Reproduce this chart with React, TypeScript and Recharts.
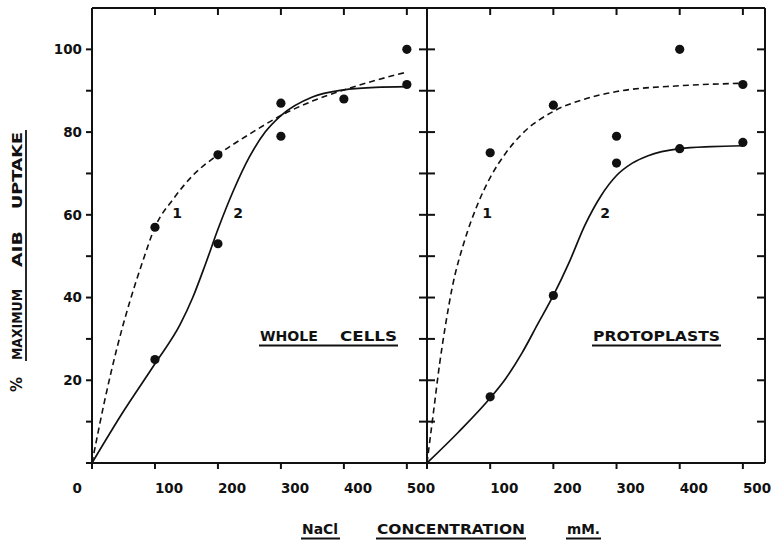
import React from 'react';
import { ComposedChart, Line, Scatter, XAxis, YAxis } from 'recharts';

const xTicks = [0, 100, 200, 300, 400, 500];
const yTicks = [0, 10, 20, 30, 40, 50, 60, 70, 80, 90, 100];
const yLabelValues = [20, 40, 60, 80, 100];

// Whole cells: measured points
const wholeDotX = [100, 100, 200, 200, 300, 300, 400, 500, 500];
const wholeDotY = [57, 25, 74.5, 53, 87, 79, 88, 100, 91.5];
// Whole cells: curve 1 (dashed), curve 2 (solid)
const wholeC1X = [0, 20, 40, 60, 80, 100, 130, 160, 200, 250, 300, 350, 400, 450, 500];
const wholeC1Y = [0, 15, 28, 39, 48.5, 57, 64, 69.5, 74.5, 79.5, 84, 87.5, 90.2, 92.5, 94.5];
const wholeC2X = [0, 50, 100, 140, 160, 180, 200, 225, 250, 275, 300, 350, 400, 450, 500];
const wholeC2Y = [0, 12.5, 24, 33.5, 40, 48, 56.5, 66, 74, 80, 84, 88.5, 90.2, 90.8, 91];

// Protoplasts: measured points
const protoDotX = [100, 100, 200, 200, 300, 300, 400, 400, 500, 500];
const protoDotY = [75, 16, 86.5, 40.5, 79, 72.5, 100, 76, 91.5, 77.5];
// Protoplasts: curve 1 (dashed), curve 2 (solid)
const protoC1X = [0, 10, 20, 30, 40, 60, 80, 100, 125, 150, 200, 250, 300, 400, 500];
const protoC1Y = [0, 12, 24, 34, 42.5, 54, 62.5, 69, 75, 79.5, 85, 88, 89.8, 91.2, 91.8];
const protoC2X = [0, 50, 100, 125, 150, 175, 200, 225, 250, 275, 300, 325, 350, 400, 450, 500];
const protoC2Y = [0, 7.5, 15.7, 20.5, 26.5, 33.5, 40.5, 48.5, 57.5, 64.5, 69.5, 72.5, 74.3, 76, 76.5, 76.7];

const zip = (xs: number[], ys: number[]) => xs.map((x, i) => ({ x, y: ys[i] }));

const FONT = '"DejaVu Sans", sans-serif';
const INK = '#111';
const TICK_W = 2;
const PLOT_TOP = 8; // margin.top + top axis height

const Dot = (p: any) => <circle cx={p.cx} cy={p.cy} r={4.6} fill={INK} />;

const labelProps = { fontFamily: FONT, fontWeight: 'bold' as const, fontSize: 13.5, fill: INK };

// tickSize/tickMargin are 0, so (x, y) is the point on the axis line itself.
// The bottom axis also draws the matching inward tick on the top frame line.
function BottomTick({ x, y, payload, showZero }: any) {
  const v = payload.value;
  return (
    <g>
      <line x1={x} x2={x} y1={y} y2={y + 6} stroke={INK} strokeWidth={TICK_W} />
      <line x1={x} x2={x} y1={PLOT_TOP} y2={PLOT_TOP + 7} stroke={INK} strokeWidth={TICK_W} />
      {v === 0 ? (
        showZero ? (
          <text x={x - 10} y={y + 20} dy="0.71em" textAnchor="end" {...labelProps}>0</text>
        ) : null
      ) : (
        <text x={x} y={y + 20} dy="0.71em" textAnchor="start" {...labelProps}>{v}</text>
      )}
    </g>
  );
}

// The left axis also draws the matching inward tick on the right frame line.
function LeftTick({ x, y, payload, labelled, plotRight }: any) {
  const right = <line x1={plotRight - 8} x2={plotRight} y1={y} y2={y} stroke={INK} strokeWidth={TICK_W} />;
  if (!labelled) {
    return (
      <g>
        <line x1={x} x2={x + 8} y1={y} y2={y} stroke={INK} strokeWidth={TICK_W} />
        {right}
      </g>
    );
  }
  return (
    <g>
      <line x1={x - 6} x2={x} y1={y} y2={y} stroke={INK} strokeWidth={TICK_W} />
      {right}
      {yLabelValues.includes(payload.value) ? (
        <text x={x - 10} y={y} dy="0.36em" textAnchor="end" {...labelProps}>{payload.value}</text>
      ) : null}
    </g>
  );
}

interface PanelProps {
  left: number;
  width: number;
  marginLeft: number;
  xMax: number;
  labelled: boolean;
  dots: { x: number; y: number }[];
  curve1: { x: number; y: number }[];
  curve2: { x: number; y: number }[];
}

function Panel({ left, width, marginLeft, xMax, labelled, dots, curve1, curve2 }: PanelProps) {
  const axisLine = { stroke: INK, strokeWidth: 2 };
  const common = { allowDataOverflow: true, interval: 0 as const, tickSize: 0, tickMargin: 0, tickLine: false, axisLine, stroke: INK };
  const plotRight = width - 10;
  return (
    <div style={{ position: 'absolute', left, top: 0 }}>
      <ComposedChart width={width} height={541} margin={{ top: 7, right: 9, bottom: 77, left: marginLeft }}>
        <XAxis
          xAxisId="B"
          type="number"
          dataKey="x"
          orientation="bottom"
          height={1}
          domain={[0, xMax]}
          ticks={xTicks}
          tick={(p: any) => <BottomTick {...p} showZero={labelled} />}
          {...common}
        />
        <XAxis
          xAxisId="T"
          type="number"
          dataKey="x"
          orientation="top"
          height={1}
          domain={[0, xMax]}
          ticks={xTicks}
          tick={false}
          {...common}
        />
        <YAxis
          yAxisId="L"
          type="number"
          dataKey="y"
          orientation="left"
          width={1}
          domain={[0, 110]}
          ticks={yTicks}
          tick={(p: any) => <LeftTick {...p} labelled={labelled} plotRight={plotRight} />}
          {...common}
        />
        <YAxis
          yAxisId="R"
          type="number"
          orientation="right"
          width={1}
          domain={[0, 110]}
          ticks={yTicks}
          tick={false}
          {...common}
        />
        {/* curve 1 sits on the top/right axes, which share the bottom/left domains */}
        <Line
          xAxisId="T"
          yAxisId="R"
          data={curve1}
          dataKey="y"
          type="monotone"
          stroke={INK}
          strokeWidth={1.6}
          strokeDasharray="6 4"
          dot={false}
          isAnimationActive={false}
        />
        <Line
          xAxisId="B"
          yAxisId="L"
          data={curve2}
          dataKey="y"
          type="monotone"
          stroke={INK}
          strokeWidth={1.7}
          dot={false}
          isAnimationActive={false}
        />
        <Scatter xAxisId="B" yAxisId="L" data={dots} dataKey="y" shape={Dot} isAnimationActive={false} />
      </ComposedChart>
    </div>
  );
}

const textStyle = { fontFamily: FONT, fontWeight: 'bold' as const, fill: INK };

export default function App() {
  return (
    <div style={{ position: 'absolute', left: 0, top: 0, width: 775, height: 541, background: '#fff' }}>
      <Panel
        left={0}
        width={437}
        marginLeft={91}
        xMax={532}
        labelled
        dots={zip(wholeDotX, wholeDotY)}
        curve1={zip(wholeC1X, wholeC1Y)}
        curve2={zip(wholeC2X, wholeC2Y)}
      />
      <Panel
        left={417}
        width={358}
        marginLeft={9}
        xMax={535}
        labelled={false}
        dots={zip(protoDotX, protoDotY)}
        curve1={zip(protoC1X, protoC1Y)}
        curve2={zip(protoC2X, protoC2Y)}
      />
      <svg width={775} height={541} style={{ position: 'absolute', left: 0, top: 0, pointerEvents: 'none' }}>
        {/* curve numbers */}
        <text x={177} y={218} textAnchor="middle" fontSize={14} {...textStyle}>1</text>
        <text x={238} y={218} textAnchor="middle" fontSize={14} {...textStyle}>2</text>
        <text x={487} y={218} textAnchor="middle" fontSize={14} {...textStyle}>1</text>
        <text x={605} y={218} textAnchor="middle" fontSize={14} {...textStyle}>2</text>
        {/* panel names */}
        <text x={260} y={341} fontSize={14} textLength={58} lengthAdjust="spacingAndGlyphs" {...textStyle}>WHOLE</text>
        <text x={340} y={341} fontSize={14} textLength={57} lengthAdjust="spacingAndGlyphs" {...textStyle}>CELLS</text>
        <line x1={259} x2={398} y1={345.5} y2={345.5} stroke={INK} strokeWidth={1.8} />
        <text x={593} y={341} fontSize={14} textLength={127} lengthAdjust="spacingAndGlyphs" {...textStyle}>PROTOPLASTS</text>
        <line x1={592} x2={721} y1={345.5} y2={345.5} stroke={INK} strokeWidth={1.8} />
        {/* x axis title */}
        <text x={302} y={534} fontSize={14} textLength={36} lengthAdjust="spacingAndGlyphs" {...textStyle}>NaCl</text>
        <line x1={301} x2={340} y1={538.5} y2={538.5} stroke={INK} strokeWidth={1.8} />
        <text x={377} y={534} fontSize={14} textLength={148} lengthAdjust="spacingAndGlyphs" {...textStyle}>CONCENTRATION</text>
        <line x1={376} x2={526} y1={538.5} y2={538.5} stroke={INK} strokeWidth={1.8} />
        <text x={567} y={534} fontSize={14} textLength={33} lengthAdjust="spacingAndGlyphs" {...textStyle}>mM.</text>
        <line x1={566} x2={601} y1={538.5} y2={538.5} stroke={INK} strokeWidth={1.8} />
        {/* y axis title */}
        <g transform="translate(22,0) rotate(-90)">
          <text x={-392} y={0} fontSize={15} {...textStyle}>%</text>
          <text x={-360} y={0} fontSize={14} textLength={71} lengthAdjust="spacingAndGlyphs" {...textStyle}>MAXIMUM</text>
          <text x={-267} y={0} fontSize={14} textLength={36} lengthAdjust="spacingAndGlyphs" {...textStyle}>AIB</text>
          <text x={-209} y={0} fontSize={14} textLength={77} lengthAdjust="spacingAndGlyphs" {...textStyle}>UPTAKE</text>
          <line x1={-361} x2={-130} y1={4} y2={4} stroke={INK} strokeWidth={1.8} />
        </g>
      </svg>
    </div>
  );
}
